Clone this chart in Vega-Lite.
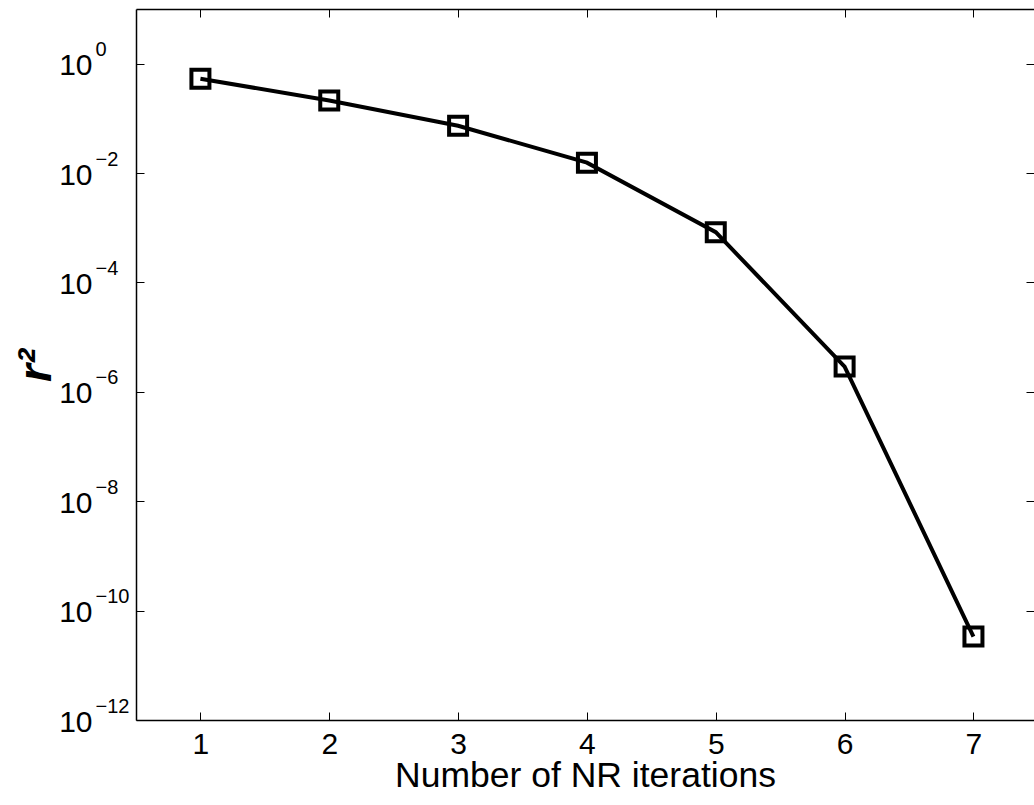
{
  "$schema": "https://vega.github.io/schema/vega-lite/v6.json",
  "width": 898,
  "height": 711,
  "autosize": "none",
  "padding": {"left": 136, "top": 9, "right": 0, "bottom": 85},
  "background": "white",
  "config": {"view": {"stroke": null}, "font": "Liberation Sans"},
  "data": {"values": [
    {"iter": 1, "r2": 0.53},
    {"iter": 2, "r2": 0.213},
    {"iter": 3, "r2": 0.0734},
    {"iter": 4, "r2": 0.0155},
    {"iter": 5, "r2": 0.00083},
    {"iter": 6, "r2": 0.0000029},
    {"iter": 7, "r2": 3.35e-11}
  ]},
  "layer": [
    {
      "mark": {"type": "line", "color": "black", "strokeWidth": 4},
      "encoding": {
        "x": {"field": "iter", "type": "quantitative",
          "scale": {"domain": [0.5, 7.47], "nice": false, "zero": false},
          "axis": {"orient": "bottom", "values": [1, 2, 3, 4, 5, 6, 7], "format": "d",
            "title": "Number of NR iterations", "grid": false,
            "tickSize": -8, "tickColor": "black", "tickWidth": 1,
            "domainColor": "black", "domainWidth": 1.5,
            "labelPadding": 17, "labelFontSize": 30, "labelColor": "black",
            "labelFlush": false, "labelOverlap": false,
            "titleFontSize": 35.5, "titleFontWeight": "normal", "titleColor": "black",
            "titleY": 66, "titleBaseline": "alphabetic"}},
        "y": {"field": "r2", "type": "quantitative",
          "scale": {"type": "log", "domain": [1e-12, 10], "nice": false},
          "axis": {"orient": "left", "values": [1e-12, 1e-10, 1e-8, 1e-6, 1e-4, 1e-2, 1],
            "labelExpr": "'10'", "grid": false,
            "tickSize": -8, "tickColor": "black", "tickWidth": 1,
            "domainColor": "black", "domainWidth": 1.5,
            "labelPadding": 52, "labelFontSize": 30, "labelColor": "black",
            "labelBaseline": "middle", "labelOffset": 2,
            "labelFlush": false, "labelOverlap": false,
            "title": "r²", "titleFontSize": 46, "titleFontStyle": "italic", "titleFontWeight": "bold",
            "titleColor": "black", "titleAngle": -90, "titleX": -86, "titleY": 356,
            "titleBaseline": "alphabetic", "titleAlign": "center"}}
      }
    },
    {
      "mark": {"type": "point", "shape": "square", "size": 324, "filled": false, "color": "black", "strokeWidth": 4, "opacity": 1},
      "encoding": {
        "x": {"field": "iter", "type": "quantitative",
          "scale": {"domain": [0.5, 7.47], "nice": false, "zero": false},
          "axis": {"orient": "top", "values": [1, 2, 3, 4, 5, 6, 7], "labels": false, "title": null, "grid": false,
            "tickSize": -8, "tickColor": "black", "tickWidth": 1,
            "domainColor": "black", "domainWidth": 1.5}},
        "y": {"field": "r2", "type": "quantitative",
          "scale": {"type": "log", "domain": [1e-12, 10], "nice": false},
          "axis": {"orient": "right", "values": [1e-12, 1e-10, 1e-8, 1e-6, 1e-4, 1e-2, 1], "labels": false, "title": null, "grid": false,
            "tickSize": -8, "tickColor": "black", "tickWidth": 1, "domain": false}}
      }
    },
    {
      "mark": {"type": "point", "opacity": 0},
      "encoding": {
        "x": {"field": "iter", "type": "quantitative",
          "scale": {"domain": [0.5, 7.47], "nice": false, "zero": false}, "axis": null},
        "y": {"field": "r2", "type": "quantitative",
          "scale": {"type": "log", "domain": [1e-12, 10], "nice": false},
          "axis": {"orient": "left", "values": [1e-12, 1e-10, 1e-8, 1e-6, 1e-4, 1e-2, 1],
            "labelExpr": "datum.value >= 1 ? '0' : '−' + round(-log(datum.value)/LN10)",
            "ticks": false, "domain": false, "grid": false, "title": null,
            "labelAlign": "left", "labelPadding": 41, "labelFontSize": 20, "labelColor": "black",
            "labelBaseline": "middle", "labelOffset": -14,
            "labelFlush": false, "labelOverlap": false}}
      }
    }
  ],
  "resolve": {"axis": {"x": "independent", "y": "independent"}}
}
